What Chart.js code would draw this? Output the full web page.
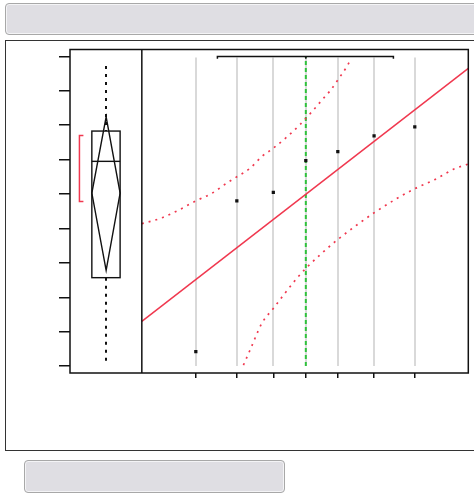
<!DOCTYPE html>
<html>
<head>
<meta charset="utf-8">
<script src="https://cdn.jsdelivr.net/npm/chart.js@4/dist/chart.umd.min.js"></script>
<style>
  html, body { margin: 0; padding: 0; background: #ffffff; }
  body { width: 474px; height: 496px; position: relative; overflow: hidden; font-family: "DejaVu Sans", sans-serif; }
  .bar { position: absolute; background: #dfdee3; border: 1px solid #a8a8a8; border-radius: 4px; box-shadow: inset 0 0 0 1px #f4f4f6; }
  #topbar { left: 5px; top: 3px; width: 475px; height: 30px; }
  #botbar { left: 24px; top: 460px; width: 259px; height: 31px; }
  #frame { position: absolute; left: 5px; top: 40px; width: 475px; height: 409px; border: 1px solid #333; }
  #c { position: absolute; left: 0; top: 0; }
</style>
</head>
<body>
<div class="bar" id="topbar"></div>
<div id="frame"></div>
<div class="bar" id="botbar"></div>
<canvas id="c" width="474" height="496"></canvas>
<script>
// ---- data ----
const xValues = [16.54, 29.10, 40.28, 50.23, 60.03, 71.14, 83.61];
const yValues = [0.42, 4.80, 5.05, 5.97, 6.23, 6.69, 6.95];
const xTickValues = [16.54, 29.10, 40.28, 50.23, 60.03, 71.14, 83.61];
const yTickValues = [0, 1, 2, 3, 4, 5, 6, 7, 8, 9];

const fitX = [0, 100];
const fitY = [1.30, 8.65];

const upperBandX = [0, 5.6, 11.21, 16.54, 21.44, 26.22, 29.10, 33.17, 36.85, 39.82, 44.10, 48.27, 52.07, 55.62, 57.67, 60.73, 62.79, 64.01];
const upperBandY = [4.14, 4.29, 4.53, 4.80, 5.02, 5.33, 5.50, 5.75, 6.10, 6.30, 6.63, 7.00, 7.39, 7.78, 8.00, 8.41, 8.70, 8.92];
const lowerBandX = [31.12, 33.17, 36.75, 40.31, 43.37, 47.47, 50.23, 55.13, 60.03, 65.85, 70.93, 77.58, 83.71, 90.35, 95.44, 100];
const lowerBandY = [0.03, 0.47, 1.24, 1.68, 2.06, 2.55, 2.84, 3.28, 3.68, 4.10, 4.44, 4.84, 5.16, 5.45, 5.72, 5.87];

const meanX = [50.23];
const xBracket = [23.15, 50.23, 77.06];

// box plot of the y values (left panel)
const boxQuartiles = [2.57, 5.95, 6.83];    // Q1, median, Q3
const boxWhiskers = [0.15, 8.72];           // low, high
const meanDiamond = [2.78, 5.03, 7.24];     // lower CI, mean, upper CI
const shortestHalf = [4.78, 6.70];

// ---- styles ----
const RED = '#f0384f';
const GREEN = '#2fc23c';

const xy = (xs, ys) => xs.map((x, i) => ({ x: x, y: ys[i] }));

const framePlugin = {
  id: 'framePlugin',
  beforeDatasetsDraw(chart) {
    const { ctx, scales: { x, y } } = chart;
    ctx.save();
    ctx.strokeStyle = '#d9d9d9';
    ctx.lineWidth = 2;
    xTickValues.forEach(v => {
      const px = Math.round(x.getPixelForValue(v));
      ctx.beginPath();
      ctx.moveTo(px, y.getPixelForValue(yTickValues[yTickValues.length - 1]) + 1);
      ctx.lineTo(px, y.getPixelForValue(yTickValues[0]));
      ctx.stroke();
    });
    ctx.restore();
  },
  afterDatasetsDraw(chart) {
    const { ctx, chartArea: a, scales: { x, y } } = chart;
    ctx.save();
    // box plot panel
    const bx0 = x.getPixelForValue(-15.31), bx1 = x.getPixelForValue(-6.65), bxc = x.getPixelForValue(-10.93);
    const py = v => y.getPixelForValue(v);
    ctx.strokeStyle = '#111';
    ctx.lineWidth = 2;
    ctx.setLineDash([3, 5]);
    ctx.beginPath();
    ctx.moveTo(Math.round(bxc), py(boxWhiskers[1]));
    ctx.lineTo(Math.round(bxc), py(boxQuartiles[2]));
    ctx.moveTo(Math.round(bxc), py(boxQuartiles[0]));
    ctx.lineTo(Math.round(bxc), py(boxWhiskers[0]));
    ctx.stroke();
    ctx.setLineDash([]);
    ctx.lineWidth = 1.4;
    ctx.strokeRect(bx0, py(boxQuartiles[2]), bx1 - bx0, py(boxQuartiles[0]) - py(boxQuartiles[2]));
    ctx.beginPath();
    ctx.moveTo(bx0, py(boxQuartiles[1]));
    ctx.lineTo(bx1, py(boxQuartiles[1]));
    ctx.stroke();
    // diamond
    ctx.beginPath();
    ctx.moveTo(bxc, py(meanDiamond[2]));
    ctx.lineTo(bx1, py(meanDiamond[1]));
    ctx.lineTo(bxc, py(meanDiamond[0]));
    ctx.lineTo(bx0, py(meanDiamond[1]));
    ctx.closePath();
    ctx.stroke();
    // shortest half bracket
    const sx0 = x.getPixelForValue(-19.11), sx1 = x.getPixelForValue(-17.89);
    ctx.strokeStyle = RED;
    ctx.lineWidth = 1.5;
    ctx.beginPath();
    ctx.moveTo(sx1, py(shortestHalf[1]));
    ctx.lineTo(sx0, py(shortestHalf[1]));
    ctx.lineTo(sx0, py(shortestHalf[0]));
    ctx.lineTo(sx1, py(shortestHalf[0]));
    ctx.stroke();
    // frames
    ctx.strokeStyle = '#111';
    ctx.lineWidth = 1.5;
    ctx.strokeRect(a.left, a.top, a.right - a.left, a.bottom - a.top);
    ctx.beginPath();
    ctx.moveTo(x.getPixelForValue(0), a.top);
    ctx.lineTo(x.getPixelForValue(0), a.bottom);
    ctx.stroke();
    ctx.restore();
  }
};

new Chart(document.getElementById('c'), {
  type: 'scatter',
  data: {
    datasets: [
      {
        type: 'line', data: xy([meanX[0], meanX[0]], [yTickValues[0], yTickValues[yTickValues.length - 1]]),
        borderColor: GREEN, borderWidth: 2, borderDash: [4, 3], pointRadius: 0, order: 5
      },
      {
        type: 'line', data: xy(fitX, fitY),
        borderColor: RED, borderWidth: 1.5, pointRadius: 0, order: 3
      },
      {
        type: 'line', data: xy(upperBandX, upperBandY),
        borderColor: RED, borderWidth: 1.7, borderDash: [2, 5], pointRadius: 0,
        cubicInterpolationMode: 'monotone', order: 4
      },
      {
        type: 'line', data: xy(lowerBandX, lowerBandY),
        borderColor: RED, borderWidth: 1.7, borderDash: [2, 5], pointRadius: 0,
        cubicInterpolationMode: 'monotone', order: 4
      },
      {
        type: 'line',
        data: [
          { x: xBracket[0], y: 8.93 }, { x: xBracket[0], y: 9 },
          { x: xBracket[1], y: 9 }, { x: xBracket[1], y: 8.93 }, { x: xBracket[1], y: 9 },
          { x: xBracket[2], y: 9 }, { x: xBracket[2], y: 8.93 }
        ],
        borderColor: '#111', borderWidth: 1.5, pointRadius: 0, order: 2
      },
      {
        data: xy(xValues, yValues),
        pointStyle: 'rect', pointRadius: 2.3, backgroundColor: '#111', borderColor: '#111', borderWidth: 0, order: 1
      }
    ]
  },
  options: {
    responsive: false,
    animation: false,
    events: [],
    layout: { padding: { left: 59, right: 5.7, top: 49.5, bottom: 118 } },
    plugins: { legend: { display: false }, tooltip: { enabled: false } },
    scales: {
      x: {
        type: 'linear', min: -22, max: 100,
        afterBuildTicks: s => { s.ticks = xTickValues.map(v => ({ value: v })); },
        afterFit: s => { s.height = 5; },
        ticks: { display: false },
        grid: { drawOnChartArea: false, drawTicks: true, tickLength: 5, tickColor: '#111', lineWidth: 1.5 },
        border: { display: false }
      },
      y: {
        type: 'linear', min: -0.2, max: 9.2,
        afterBuildTicks: s => { s.ticks = yTickValues.map(v => ({ value: v })); },
        afterFit: s => { s.width = 11; },
        ticks: { display: false },
        grid: { drawOnChartArea: false, drawTicks: true, tickLength: 11, tickColor: '#111', lineWidth: 1.5 },
        border: { display: false }
      }
    }
  },
  plugins: [framePlugin]
});
</script>
</body>
</html>
